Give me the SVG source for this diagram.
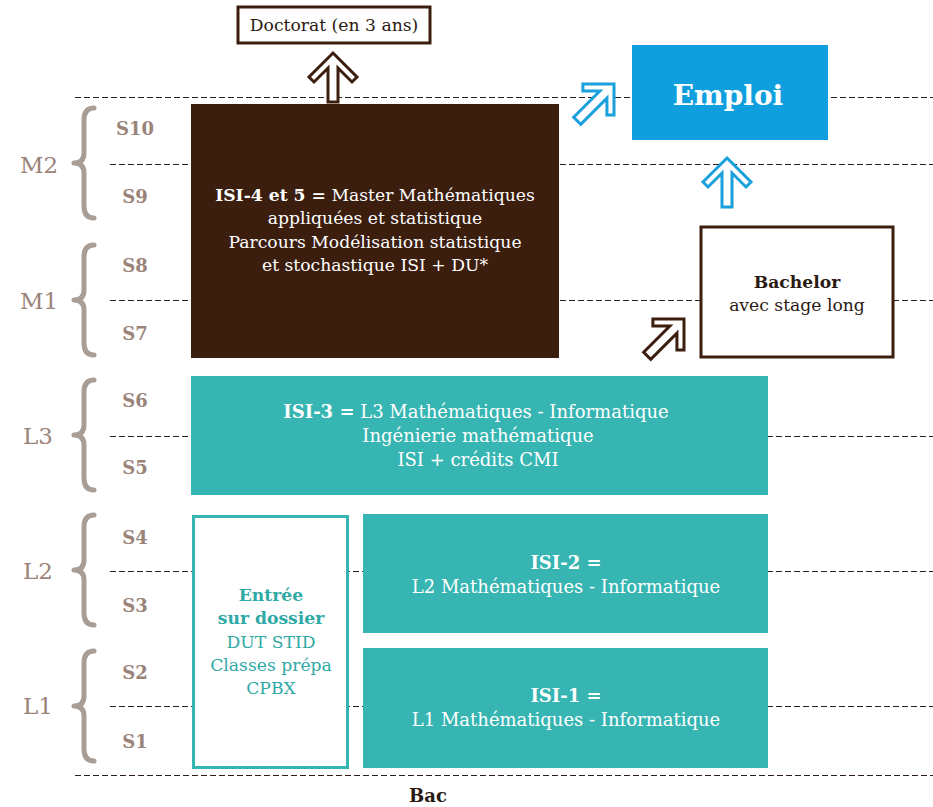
<svg xmlns="http://www.w3.org/2000/svg" width="933" height="807" viewBox="0 0 933 807">
<style>
text{font-family:"DejaVu Serif","Liberation Serif",serif}
.grid{stroke:#2e1e16;stroke-width:1;stroke-dasharray:6 3;fill:none}
.brace{fill:none;stroke:#a89e96;stroke-width:5;stroke-linecap:round;stroke-linejoin:round}
.lvl{fill:#9a8479;font-size:23px;text-anchor:middle}
.sem{fill:#9a8479;font-size:18px;font-weight:bold;text-anchor:middle}
.wt{fill:#fff;font-size:17.2px;text-anchor:middle}
.wl{fill:#fff;font-size:18px;text-anchor:middle}
.tt{fill:#2fa9a6;font-size:17.2px;text-anchor:middle}
.dt{fill:#2b1a12;font-size:17.2px;text-anchor:middle}
.b{font-weight:bold}
.arrB{fill:#fff;stroke:#3c1e0f;stroke-width:3;stroke-linejoin:miter}
.arrC{fill:#fff;stroke:#1aa0dc;stroke-width:3;stroke-linejoin:miter}
</style>
<defs>
<path id="brace" d="M12,-55 Q2,-55 2,-43 L2,-10 Q2,0 -8,0 Q2,0 2,10 L2,43 Q2,55 12,55"/>
<path id="up" d="M0,0 L24,24 L19,29 L5,15 L5,49 L-5,49 L-5,15 L-19,29 L-24,24 Z"/>
<path id="diag" d="M0,0 L22,22 L17,27 L5,15 L5,52 L-5,52 L-5,15 L-17,27 L-22,22 Z"/>
</defs>
<rect width="933" height="807" fill="#fff"/>
<g id="grid">
<line class="grid" x1="75" y1="97.5" x2="933" y2="97.5"/>
<line class="grid" x1="110" y1="164.5" x2="933" y2="164.5"/>
<line class="grid" x1="110" y1="300.5" x2="933" y2="300.5"/>
<line class="grid" x1="110" y1="436.5" x2="933" y2="436.5"/>
<line class="grid" x1="110" y1="571.5" x2="933" y2="571.5"/>
<line class="grid" x1="110" y1="706.5" x2="933" y2="706.5"/>
<line class="grid" x1="75" y1="775.5" x2="933" y2="775.5"/>
</g>
<g id="levels">
<use href="#brace" class="brace" transform="translate(82,163)"/>
<use href="#brace" class="brace" transform="translate(82,300)"/>
<use href="#brace" class="brace" transform="translate(82,435)"/>
<use href="#brace" class="brace" transform="translate(82,570)"/>
<use href="#brace" class="brace" transform="translate(82,706)"/>
<text class="lvl" x="39" y="173">M2</text>
<text class="lvl" x="39" y="309">M1</text>
<text class="lvl" x="38" y="444">L3</text>
<text class="lvl" x="38" y="579">L2</text>
<text class="lvl" x="38" y="714">L1</text>
<text class="sem" x="135" y="135">S10</text>
<text class="sem" x="135" y="203">S9</text>
<text class="sem" x="135" y="272">S8</text>
<text class="sem" x="135" y="340">S7</text>
<text class="sem" x="135" y="407">S6</text>
<text class="sem" x="135" y="474">S5</text>
<text class="sem" x="135" y="544">S4</text>
<text class="sem" x="135" y="612">S3</text>
<text class="sem" x="135" y="679">S2</text>
<text class="sem" x="135" y="748">S1</text>
</g>
<g id="doctorat">
<rect x="238" y="7" width="192" height="36" fill="#fff" stroke="#3c1e0f" stroke-width="3"/>
<text class="dt" x="334" y="31">Doctorat (en 3 ans)</text>
</g>
<g id="master">
<rect x="191" y="104" width="368" height="254" fill="#3c1e0f"/>
<text class="wt" x="375" y="201"><tspan class="b">ISI-4 et 5 =</tspan> Master Mathématiques</text>
<text class="wt" x="375" y="224">appliquées et statistique</text>
<text class="wt" x="375" y="248">Parcours Modélisation statistique</text>
<text class="wt" x="375" y="271">et stochastique ISI + DU*</text>
</g>
<g id="emploi">
<rect x="632" y="45" width="196" height="95" fill="#109fde"/>
<text x="728" y="105" fill="#fff" font-size="28" font-weight="bold" text-anchor="middle">Emploi</text>
</g>
<g id="bachelor">
<rect x="701" y="227" width="192" height="130" fill="#fff" stroke="#3c1e0f" stroke-width="3"/>
<text class="dt b" x="797" y="288">Bachelor</text>
<text class="dt" x="797" y="311">avec stage long</text>
</g>
<g id="l3">
<rect x="191" y="376" width="577" height="119" fill="#36b5b2"/>
<text class="wl" x="476" y="418"><tspan class="b">ISI-3 =</tspan> L3 Mathématiques - Informatique</text>
<text class="wl" x="478" y="442">Ingénierie mathématique</text>
<text class="wl" x="478" y="466">ISI + crédits CMI</text>
</g>
<g id="entree">
<rect x="193.5" y="516.5" width="154" height="251" fill="#fff" stroke="#36b5b2" stroke-width="3"/>
<text class="tt b" x="271" y="601">Entrée</text>
<text class="tt b" x="271" y="624">sur dossier</text>
<text class="tt" x="271" y="648">DUT STID</text>
<text class="tt" x="271" y="671">Classes prépa</text>
<text class="tt" x="271" y="694">CPBX</text>
</g>
<g id="l2">
<rect x="363" y="514" width="405" height="119" fill="#36b5b2"/>
<text class="wl b" x="566" y="569">ISI-2 =</text>
<text class="wl" x="566" y="593">L2 Mathématiques - Informatique</text>
</g>
<g id="l1">
<rect x="363" y="648" width="405" height="120" fill="#36b5b2"/>
<text class="wl b" x="566" y="702">ISI-1 =</text>
<text class="wl" x="566" y="726">L1 Mathématiques - Informatique</text>
</g>
<g id="bac">
<text class="dt b" x="428" y="802" style="font-size:18px">Bac</text>
</g>
<g id="connectors">
<use href="#up" class="arrB" transform="translate(333,53)"/>
<use href="#up" class="arrC" transform="translate(727,158)"/>
<use href="#diag" class="arrC" transform="translate(614,84) rotate(45)"/>
<use href="#diag" class="arrB" transform="translate(684,319) rotate(45)"/>
</g>
</svg>
